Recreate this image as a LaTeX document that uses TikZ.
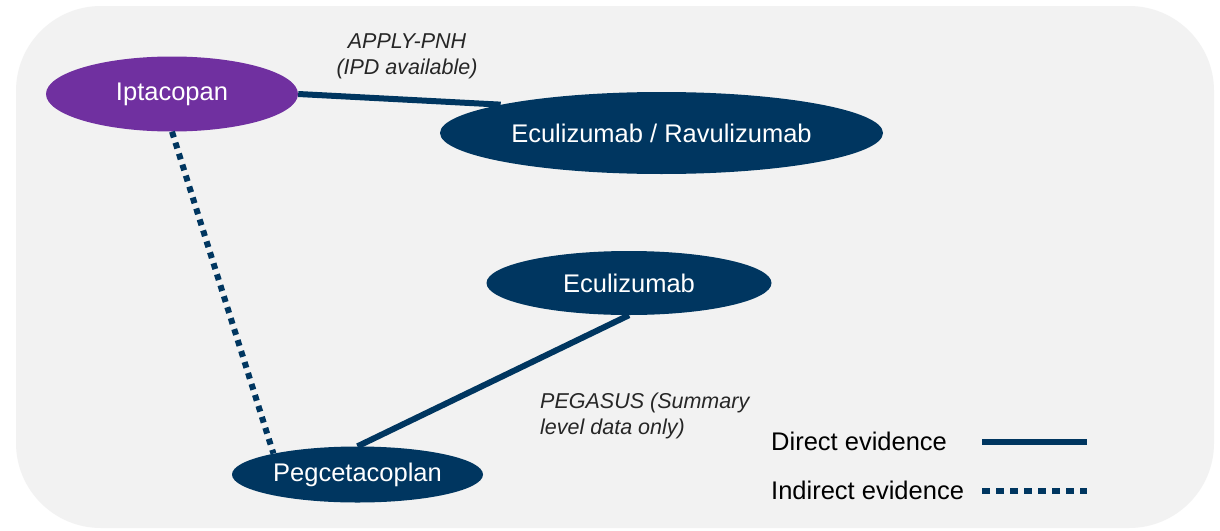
\documentclass[tikz,border=0pt]{standalone}
\usepackage{fontspec}
\setmainfont{Liberation Sans}
\usetikzlibrary{shapes.geometric}
\definecolor{navy}{RGB}{0,54,96}
\definecolor{purp}{RGB}{112,48,160}
\definecolor{bggray}{RGB}{242,242,242}
\definecolor{labtxt}{RGB}{38,38,38}
\tikzset{
  drug/.style={ellipse, fill=navy, inner sep=0pt, text=white,
    font=\fontsize{25.5}{30}\selectfont},
  lab/.style={text=labtxt, font=\fontsize{21.5}{26}\selectfont\itshape, align=left, inner sep=0pt},
  legtxt/.style={text=black, font=\fontsize{25.5}{30}\selectfont, anchor=west, inner sep=0pt},
  direct/.style={draw=navy, line width=6pt},
  indirect/.style={draw=navy, line width=6pt, dash pattern=on 6pt off 5.5pt},
}
\begin{document}
\begin{tikzpicture}[x=1pt,y=-1pt]
\useasboundingbox (0,0) rectangle (1220,530);
\fill[white] (0,0) rectangle (1220,530);
\fill[bggray, rounded corners=85pt] (16,6) rectangle (1214,528);

\node[drug, fill=purp, minimum width=252pt, minimum height=75pt] (ipt) at (172,94) {Iptacopan};
\node[drug, minimum width=443pt, minimum height=82pt] (er) at (661.5,133) {Eculizumab / Ravulizumab};
\node[drug, minimum width=285pt, minimum height=64pt] (ecu) at (629,283) {Eculizumab};
\node[drug, minimum width=251pt, minimum height=56pt] (peg) at (357.5,474.5) {Pegcetacoplan};

\draw[direct] (ipt.east) -- (er.170);
\draw[direct] (ecu.south) -- (peg.north);
\draw[indirect] (ipt.south) -- (peg.166);

\node[lab, align=center] (apply) at (407,56) {APPLY-PNH\\(IPD available)};
\node[lab, anchor=west] (peg-lab) at (540,416) {PEGASUS (Summary\\level data only)};

\node[legtxt] (ld) at (771,441) {Direct evidence};
\node[legtxt] (li) at (771,490) {Indirect evidence};
\coordinate (ld1) at (982,442);
\coordinate (ld2) at (1087,442);
\coordinate (li1) at (982,491);
\coordinate (li2) at (1087,491);
\draw[direct] (ld1) -- (ld2);
\draw[indirect, dash pattern=on 8pt off 6pt] (li1) -- (li2);
\end{tikzpicture}
\end{document}
